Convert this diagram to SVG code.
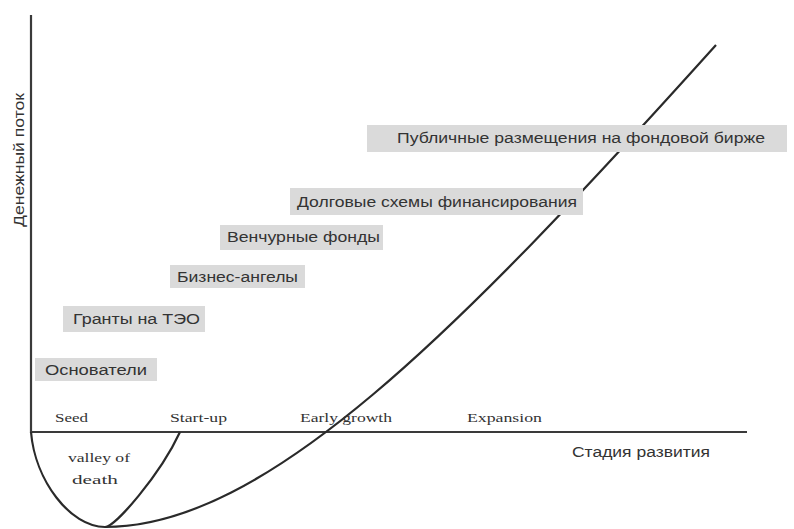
<svg xmlns="http://www.w3.org/2000/svg" width="794" height="529" viewBox="0 0 794 529">
<style>
.box{fill:#dadada}
.lbl{font-family:"Liberation Sans",Arial,sans-serif;font-size:14px;fill:#333}
.stg{font-family:"Liberation Serif","Times New Roman",serif;font-size:12px;fill:#333}
.ax{stroke:#3a3a3a;stroke-width:2.2;fill:none}
.cv{stroke:#2a2a2a;stroke-width:2.2;fill:none}
</style>
<rect width="794" height="529" fill="#fff"/>
<g id="connectors">
<line class="ax" x1="31" y1="15" x2="31" y2="433"/>
<line class="ax" x1="31" y1="432" x2="747" y2="432"/>
<path class="cv" d="M31,432 C35,480 70,527 105,527"/>
<path class="cv" d="M105,527 C265,527 455,335 716,45"/>
<path class="cv" d="M105,527 C115,527 160,475 180,432"/>
</g>
<g id="axis-y-label"><text class="lbl" font-size="12" transform="translate(24,160) rotate(-90)" text-anchor="middle" textLength="134" lengthAdjust="spacingAndGlyphs">Денежный поток</text></g>
<g id="axis-x-label"><text class="lbl" x="572" y="457" textLength="138" lengthAdjust="spacingAndGlyphs">Стадия развития</text></g>
<g id="n-osnovateli"><rect class="box" x="35" y="358" width="122" height="23"/><text class="lbl" x="45" y="375" textLength="102" lengthAdjust="spacingAndGlyphs">Основатели</text></g>
<g id="n-granty"><rect class="box" x="63" y="306" width="142" height="26"/><text class="lbl" x="73" y="324" textLength="127" lengthAdjust="spacingAndGlyphs">Гранты на ТЭО</text></g>
<g id="n-angely"><rect class="box" x="170" y="265" width="135" height="23"/><text class="lbl" x="177" y="282" textLength="121" lengthAdjust="spacingAndGlyphs">Бизнес-ангелы</text></g>
<g id="n-venchur"><rect class="box" x="220" y="225" width="163" height="25"/><text class="lbl" x="227" y="242" textLength="153" lengthAdjust="spacingAndGlyphs">Венчурные фонды</text></g>
<g id="n-dolg"><rect class="box" x="290" y="188" width="293" height="27"/><text class="lbl" x="297" y="207" textLength="280" lengthAdjust="spacingAndGlyphs">Долговые схемы финансирования</text></g>
<g id="n-ipo"><rect class="box" x="367" y="125" width="420" height="27"/><text class="lbl" x="397" y="143" textLength="368" lengthAdjust="spacingAndGlyphs">Публичные размещения на фондовой бирже</text></g>
<g id="stage-seed"><text class="stg" x="55" y="422" textLength="33" lengthAdjust="spacingAndGlyphs">Seed</text></g>
<g id="stage-startup"><text class="stg" x="170" y="422" textLength="57" lengthAdjust="spacingAndGlyphs">Start-up</text></g>
<g id="stage-early"><text class="stg" x="300" y="422" textLength="92" lengthAdjust="spacingAndGlyphs">Early growth</text></g>
<g id="stage-expansion"><text class="stg" x="467" y="422" textLength="75" lengthAdjust="spacingAndGlyphs">Expansion</text></g>
<g id="valley"><text class="stg" x="99" y="462" text-anchor="middle" textLength="62" lengthAdjust="spacingAndGlyphs">valley of</text><text class="stg" x="95" y="484" text-anchor="middle" textLength="46" lengthAdjust="spacingAndGlyphs">death</text></g>
</svg>
